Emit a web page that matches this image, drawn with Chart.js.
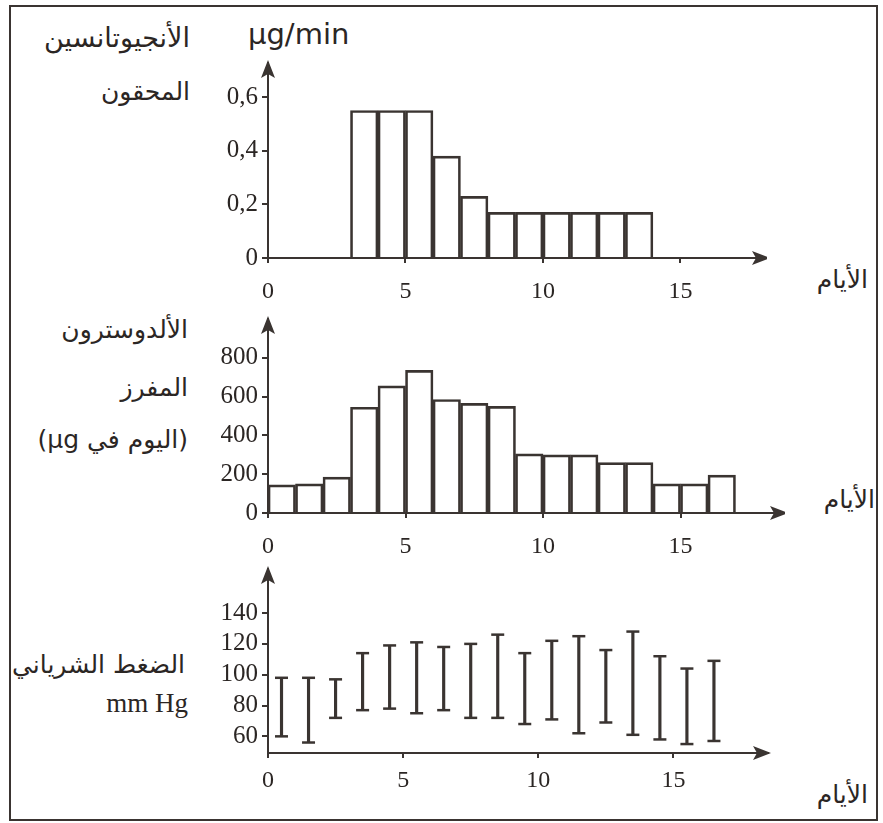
<!DOCTYPE html>
<html>
<head>
<meta charset="utf-8">
<script src="https://cdn.jsdelivr.net/npm/chart.js@4.4.1/dist/chart.umd.min.js"></script>
<style>
  body { margin: 0; background: #fff; width: 883px; height: 823px; position: relative; overflow: hidden; }
  #frame { position: absolute; left: 9px; top: 5px; width: 869px; height: 816px; border: 2.5px solid #3a3431; box-sizing: border-box; }
  canvas { position: absolute; }
  .ar { position: absolute; font-family: "DejaVu Sans", sans-serif; font-size: 25px; color: #2b2624; white-space: nowrap; direction: rtl; line-height: 1; }
  .lt { position: absolute; color: #2b2624; white-space: nowrap; line-height: 1; }
</style>
</head>
<body>
<div id="frame"></div>

<div class="lt" style="left:248px; top:20px; font-family:'DejaVu Sans'; font-size:29px;">µg/min</div>
<div class="ar" style="right:693px; top:24px; font-size:27px;">الأنجيوتانسين</div>
<div class="ar" style="right:693px; top:79px;">المحقون</div>

<div class="ar" style="right:695px; top:317px;">الألدوسترون</div>
<div class="ar" style="right:695px; top:375px;">المفرز</div>
<div class="ar" style="right:695px; top:427px; direction:ltr;">(µg اليوم في)</div>

<div class="ar" style="right:698px; top:652px;">الضغط الشرياني</div>
<div class="lt" style="right:695px; top:690px; font-family:'Liberation Serif'; font-size:27px;">mm Hg</div>

<div class="ar" style="right:15px; top:267px;">الأيام</div>
<div class="ar" style="right:8px; top:487px;">الأيام</div>
<div class="ar" style="right:15px; top:782px;">الأيام</div>

<canvas id="c1"></canvas>
<canvas id="c2"></canvas>
<canvas id="c3"></canvas>

<script>
// start day of each one-day interval
const days = [0, 1, 2, 3, 4, 5, 6, 7, 8, 9, 10, 11, 12, 13, 14, 15, 16];

// infused angiotensin, µg/min (infusion from day 3 to day 14)
const angiotensin = [null, null, null, 0.55, 0.55, 0.55, 0.38, 0.23, 0.17, 0.17, 0.17, 0.17, 0.17, 0.17, null, null, null];

// secreted aldosterone, µg per day
const aldosterone = [145, 150, 185, 545, 655, 735, 585, 565, 550, 305, 300, 300, 260, 260, 150, 150, 195];

// arterial pressure range, mm Hg
const pressureHigh = [98, 98, 97, 114, 119, 121, 118, 120, 126, 114, 122, 125, 116, 128, 112, 104, 109];
const pressureLow = [60, 56, 72, 77, 78, 75, 77, 72, 72, 68, 71, 62, 69, 61, 58, 55, 57];

const dayTicks = [0, 5, 10, 15];
const angioTicks = [0, 0.2, 0.4, 0.6];
const angioTickLabels = ["0", "0,2", "0,4", "0,6"];
const aldoTicks = [0, 200, 400, 600, 800];
const pressureTicks = [60, 80, 100, 120, 140];

const INK = "#3a3431";
const PX_PER_DAY = 27.5;
const Y_AXIS_W = 68;
const X_AXIS_H = 40;

Chart.defaults.font.family = "Liberation Serif";
const xTickFont = { family: "Liberation Serif", size: 24 };
const yTickFont = { family: "Liberation Serif", size: 25 };

const arrows = {
  id: "arrows",
  afterDraw(chart) {
    const { ctx, chartArea: a } = chart;
    ctx.save();
    ctx.fillStyle = INK;
    ctx.beginPath();
    ctx.moveTo(a.left, a.top - 3);
    ctx.lineTo(a.left - 7, a.top + 15);
    ctx.lineTo(a.left, a.top + 11);
    ctx.lineTo(a.left + 7, a.top + 15);
    ctx.closePath();
    ctx.fill();
    ctx.beginPath();
    ctx.moveTo(a.right + 3, a.bottom);
    ctx.lineTo(a.right - 15, a.bottom - 7);
    ctx.lineTo(a.right - 11, a.bottom);
    ctx.lineTo(a.right - 15, a.bottom + 7);
    ctx.closePath();
    ctx.fill();
    ctx.restore();
  }
};

function xScale(max, pad) {
  return {
    type: "linear", min: 0, max: max, offset: false,
    border: { color: INK, width: 2 },
    grid: { offset: false, drawOnChartArea: false, color: INK, lineWidth: 2, tickLength: 5 },
    ticks: { font: xTickFont, color: "#2b2624", padding: pad, maxRotation: 0 },
    afterBuildTicks: s => { s.ticks = dayTicks.map(v => ({ value: v })); },
    afterFit: s => { s.height = X_AXIS_H; }
  };
}

function yScale(min, max, ticks, labels) {
  return {
    min: min, max: max,
    border: { color: INK, width: 2 },
    grid: { drawOnChartArea: false, color: INK, lineWidth: 2, tickLength: 6 },
    ticks: {
      font: yTickFont, color: "#2b2624", padding: 4,
      callback: (v, i) => labels ? labels[i] : String(v)
    },
    afterBuildTicks: s => { s.ticks = ticks.map(v => ({ value: v })); },
    afterFit: s => { s.width = Y_AXIS_W; }
  };
}

function place(id, left, top, xmax, height) {
  const c = document.getElementById(id);
  c.width = Math.round(Y_AXIS_W + xmax * PX_PER_DAY);
  c.height = height;
  c.style.left = left + "px";
  c.style.top = top + "px";
  return c;
}

const common = {
  responsive: false,
  animation: false,
  plugins: { legend: { display: false }, tooltip: { enabled: false } }
};

const barStyle = {
  backgroundColor: "rgba(255,255,255,0)",
  borderColor: INK,
  borderWidth: 2,
  categoryPercentage: 1,
  barPercentage: 1
};

const capStyle = {
  type: "line", showLine: false, pointStyle: "line",
  pointRadius: 6.5, pointBorderWidth: 2.5,
  borderColor: INK, pointBorderColor: INK
};

function draw() {
  // top: angiotensin
  new Chart(place("c1", 200, 0, 18.15, 298), {
    type: "bar",
    data: {
      datasets: [{
        ...barStyle,
        data: days.map((d, i) => ({ x: d + 0.5, y: angiotensin[i] }))
      }]
    },
    options: {
      ...common,
      layout: { padding: { top: 63 } },
      scales: {
        x: xScale(18.15, 14),
        y: yScale(0, 0.727, angioTicks, angioTickLabels)
      }
    },
    plugins: [arrows]
  });

  // middle: aldosterone
  new Chart(place("c2", 200, 300, 18.8, 253), {
    type: "bar",
    data: {
      datasets: [{
        ...barStyle,
        data: days.map((d, i) => ({ x: d + 0.5, y: aldosterone[i] }))
      }]
    },
    options: {
      ...common,
      layout: { padding: { top: 13 } },
      scales: {
        x: xScale(18.8, 14),
        y: yScale(0, 1000, aldoTicks)
      }
    },
    plugins: [arrows]
  });

  // bottom: arterial pressure
  new Chart(place("c3", 200, 550, 18.5, 243), {
    type: "bar",
    data: {
      datasets: [
        {
          backgroundColor: INK, borderWidth: 0, barThickness: 2.5,
          data: days.map((d, i) => ({ x: d + 0.5, y: [pressureLow[i], pressureHigh[i]] }))
        },
        { ...capStyle, data: days.map((d, i) => ({ x: d + 0.5, y: pressureHigh[i] })) },
        { ...capStyle, data: days.map((d, i) => ({ x: d + 0.5, y: pressureLow[i] })) }
      ]
    },
    options: {
      ...common,
      layout: { padding: { top: 15 } },
      scales: {
        x: xScale(18.5, 8),
        y: yScale(49.2, 168.6, pressureTicks)
      }
    },
    plugins: [arrows]
  });
}

document.fonts.load('23px "Liberation Serif"').then(draw, draw);
</script>
</body>
</html>
